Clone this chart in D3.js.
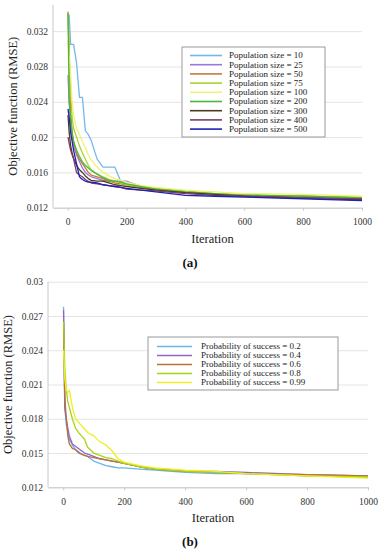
<!DOCTYPE html>
<html>
<head>
<meta charset="utf-8">
<script src="https://cdn.jsdelivr.net/npm/d3@7"></script>
<style>
  body { margin: 0; background: #fff; }
  svg { display: block; }
  .grid line { stroke: #e4e4e4; }
  .grid path { display: none; }
  .xaxis path, .xaxis line { stroke: #c8c8c8; }
  .series { fill: none; stroke-width: 1.3; stroke-linejoin: round; }
</style>
</head>
<body>
<script>
"use strict";

var width = 381, height = 550;
var serif = "'Liberation Serif', 'Times New Roman', serif";

// shared iteration grid
var iterations = [1, 5, 10, 15, 20, 30, 40, 50, 60, 70, 80, 100, 120, 140, 160, 180, 200, 250, 300, 400, 500, 600, 800, 1000];

// (a) population size
var popLabels = ["Population size = 10", "Population size = 25", "Population size = 50", "Population size = 75",
  "Population size = 100", "Population size = 200", "Population size = 300", "Population size = 400", "Population size = 500"];
var popColors = ["#74b9ea", "#9a78d8", "#c47a3c", "#a6d62a", "#f2f07a", "#4cb83a", "#4b3b1c", "#7c3d6c", "#2020b8"];
var pop10  = [0.0340, 0.0338, 0.0305, 0.0305, 0.0305, 0.0284, 0.0245, 0.0245, 0.0207, 0.0203, 0.0196, 0.0175, 0.0166, 0.0166, 0.0166, 0.0150, 0.0147, 0.0143, 0.0140, 0.0137, 0.0135, 0.0133, 0.0131, 0.0129];
var pop25  = [0.0270, 0.0240, 0.0215, 0.0200, 0.0190, 0.0180, 0.0172, 0.0165, 0.0160, 0.0157, 0.0155, 0.0153, 0.0151, 0.0150, 0.0150, 0.0150, 0.0150, 0.0144, 0.0141, 0.0137, 0.0135, 0.0134, 0.0132, 0.0131];
var pop50  = [0.0342, 0.0300, 0.0230, 0.0205, 0.0195, 0.0182, 0.0175, 0.0170, 0.0165, 0.0160, 0.0157, 0.0155, 0.0153, 0.0150, 0.0148, 0.0147, 0.0146, 0.0143, 0.0141, 0.0137, 0.0135, 0.0134, 0.0133, 0.0132];
var pop75  = [0.0340, 0.0290, 0.0250, 0.0222, 0.0210, 0.0200, 0.0190, 0.0182, 0.0175, 0.0168, 0.0163, 0.0158, 0.0155, 0.0152, 0.0150, 0.0148, 0.0146, 0.0144, 0.0142, 0.0139, 0.0136, 0.0135, 0.0133, 0.0132];
var pop100 = [0.0310, 0.0290, 0.0270, 0.0240, 0.0225, 0.0210, 0.0203, 0.0195, 0.0188, 0.0180, 0.0174, 0.0166, 0.0160, 0.0156, 0.0153, 0.0151, 0.0149, 0.0145, 0.0143, 0.0140, 0.0138, 0.0136, 0.0135, 0.0133];
var pop200 = [0.0340, 0.0240, 0.0220, 0.0205, 0.0195, 0.0185, 0.0178, 0.0172, 0.0168, 0.0165, 0.0162, 0.0158, 0.0154, 0.0151, 0.0150, 0.0149, 0.0147, 0.0144, 0.0141, 0.0138, 0.0136, 0.0134, 0.0133, 0.0131];
var pop300 = [0.0225, 0.0205, 0.0190, 0.0182, 0.0176, 0.0168, 0.0163, 0.0160, 0.0156, 0.0153, 0.0151, 0.0150, 0.0150, 0.0148, 0.0146, 0.0145, 0.0144, 0.0142, 0.0140, 0.0137, 0.0135, 0.0133, 0.0131, 0.0129];
var pop400 = [0.0200, 0.0193, 0.0185, 0.0180, 0.0175, 0.0160, 0.0157, 0.0155, 0.0152, 0.0150, 0.0148, 0.0147, 0.0146, 0.0145, 0.0144, 0.0143, 0.0141, 0.0140, 0.0139, 0.0136, 0.0134, 0.0133, 0.0131, 0.0130];
var pop500 = [0.0232, 0.0222, 0.0205, 0.0195, 0.0185, 0.0170, 0.0155, 0.0152, 0.0150, 0.0149, 0.0149, 0.0148, 0.0146, 0.0145, 0.0144, 0.0143, 0.0142, 0.0140, 0.0138, 0.0134, 0.0133, 0.0132, 0.0130, 0.0128];
var popSeries = [pop10, pop25, pop50, pop75, pop100, pop200, pop300, pop400, pop500];

// (b) probability of success
var probLabels = ["Probability of success = 0.2", "Probability of success = 0.4", "Probability of success = 0.6",
  "Probability of success = 0.8", "Probability of success = 0.99"];
var probColors = ["#6fb4e6", "#9364c8", "#b8733a", "#a8d414", "#eeee22"];
var prob02  = [0.0278, 0.0190, 0.0175, 0.0168, 0.0162, 0.0157, 0.0153, 0.0150, 0.0149, 0.0148, 0.0147, 0.0143, 0.0141, 0.0139, 0.0138, 0.0137, 0.0137, 0.0136, 0.0135, 0.0133, 0.0132, 0.0132, 0.0130, 0.0129];
var prob04  = [0.0275, 0.0190, 0.0180, 0.0172, 0.0165, 0.0158, 0.0156, 0.0154, 0.0152, 0.0150, 0.0149, 0.0147, 0.0145, 0.0144, 0.0143, 0.0142, 0.0141, 0.0138, 0.0136, 0.0134, 0.0134, 0.0133, 0.0131, 0.0130];
var prob06  = [0.0265, 0.0200, 0.0180, 0.0165, 0.0158, 0.0154, 0.0153, 0.0151, 0.0149, 0.0148, 0.0147, 0.0146, 0.0145, 0.0144, 0.0143, 0.0142, 0.0141, 0.0138, 0.0136, 0.0134, 0.0133, 0.0132, 0.0131, 0.0130];
var prob08  = [0.0265, 0.0225, 0.0205, 0.0195, 0.0190, 0.0180, 0.0172, 0.0168, 0.0165, 0.0162, 0.0155, 0.0150, 0.0148, 0.0146, 0.0145, 0.0143, 0.0141, 0.0138, 0.0136, 0.0134, 0.0133, 0.0132, 0.0130, 0.0129];
var prob099 = [0.0240, 0.0215, 0.0205, 0.0203, 0.0205, 0.0190, 0.0180, 0.0177, 0.0174, 0.0171, 0.0168, 0.0165, 0.0160, 0.0157, 0.0152, 0.0145, 0.0142, 0.0139, 0.0137, 0.0135, 0.0134, 0.0132, 0.0130, 0.0128];
var probSeries = [prob02, prob04, prob06, prob08, prob099];

var xTicks = [0, 200, 400, 600, 800, 1000];
var yTicksA = [0.012, 0.016, 0.02, 0.024, 0.028, 0.032];
var yTicksB = [0.012, 0.015, 0.018, 0.021, 0.024, 0.027, 0.03];

var svg = d3.select("body").append("svg")
  .attr("width", width)
  .attr("height", height)
  .style("font-family", serif);

function styleTicks(sel) {
  sel.attr("font-family", serif).attr("font-size", 9.5);
  sel.selectAll("text").style("font-family", serif).attr("fill", "#333");
}

function drawPanel(cfg) {
  var x = d3.scaleLinear().domain([-50, 1000]).range([cfg.left, cfg.right]);
  var y = d3.scaleLinear().domain(cfg.yDomain).range([cfg.bottom, cfg.top]);
  var g = svg.append("g");

  // gridlines + y tick labels
  g.append("g")
    .attr("class", "grid")
    .attr("transform", "translate(" + cfg.left + ",0)")
    .call(d3.axisLeft(y).tickValues(cfg.yTicks).tickSize(-(cfg.right - cfg.left)).tickPadding(5)
      .tickFormat(function (d) { return String(+d.toFixed(3)); }))
    .call(styleTicks);

  // left axis line
  g.append("line")
    .attr("x1", cfg.left).attr("x2", cfg.left)
    .attr("y1", cfg.top).attr("y2", cfg.bottom)
    .attr("stroke", "#c8c8c8");

  g.append("g")
    .attr("class", "xaxis")
    .attr("transform", "translate(0," + cfg.bottom + ")")
    .call(d3.axisBottom(x).tickValues(xTicks).tickSize(3).tickPadding(8).tickSizeOuter(0)
      .tickFormat(d3.format("d")))
    .call(styleTicks);

  var line = d3.line()
    .x(function (d, i) { return x(iterations[i]); })
    .y(function (d) { return y(d); });

  g.selectAll(".series")
    .data(cfg.series)
    .enter()
    .append("path")
    .attr("class", "series")
    .attr("stroke", function (d, i) { return cfg.colors[i]; })
    .attr("d", line);

  // axis titles
  g.append("text")
    .attr("transform", "translate(" + cfg.yTitleX + "," + ((cfg.top + cfg.bottom) / 2) + ") rotate(-90)")
    .attr("text-anchor", "middle")
    .attr("font-size", 12.5)
    .attr("fill", "#222")
    .style("font-family", serif)
    .text("Objective function (RMSE)");

  g.append("text")
    .attr("x", (cfg.left + cfg.right) / 2 + 5)
    .attr("y", cfg.bottom + 35)
    .attr("text-anchor", "middle")
    .attr("font-size", 12.5)
    .attr("fill", "#222")
    .style("font-family", serif)
    .text("Iteration");

  g.append("text")
    .attr("x", 190)
    .attr("y", cfg.bottom + 59)
    .attr("text-anchor", "middle")
    .attr("font-size", 13)
    .attr("font-weight", "bold")
    .attr("fill", "#111")
    .style("font-family", serif)
    .text(cfg.caption);

  // legend
  var lg = g.append("g").attr("transform", "translate(" + cfg.legend.x + "," + cfg.legend.y + ")");
  lg.append("rect")
    .attr("width", cfg.legend.w)
    .attr("height", cfg.legend.h)
    .attr("fill", "#fff")
    .attr("stroke", "#999");
  var rows = lg.selectAll(".row")
    .data(cfg.labels)
    .enter()
    .append("g")
    .attr("transform", function (d, i) { return "translate(0," + (cfg.legend.first + i * cfg.legend.step) + ")"; });
  rows.append("line")
    .attr("x1", cfg.legend.lx1).attr("x2", cfg.legend.lx2)
    .attr("stroke", function (d, i) { return cfg.colors[i]; })
    .attr("stroke-width", 1.6);
  rows.append("text")
    .attr("x", cfg.legend.tx)
    .attr("dy", "0.33em")
    .attr("font-size", 9)
    .attr("fill", "#222")
    .style("font-family", serif)
    .text(function (d) { return d; });
}

drawPanel({
  left: 53, right: 362, top: 4.7, bottom: 207.7,
  yDomain: [0.012, 0.035], yTicks: yTicksA, yTitleX: 17,
  series: popSeries, colors: popColors, labels: popLabels, caption: "(a)",
  legend: { x: 182, y: 47, w: 143, h: 90, first: 8.5, step: 9.2, lx1: 8, lx2: 40, tx: 47 }
});

drawPanel({
  left: 48, right: 368, top: 281.7, bottom: 487.3,
  yDomain: [0.012, 0.030], yTicks: yTicksB, yTitleX: 12,
  series: probSeries, colors: probColors, labels: probLabels, caption: "(b)",
  legend: { x: 148, y: 337, w: 190, h: 53, first: 9.5, step: 9, lx1: 9, lx2: 44, tx: 53 }
});
</script>
</body>
</html>
